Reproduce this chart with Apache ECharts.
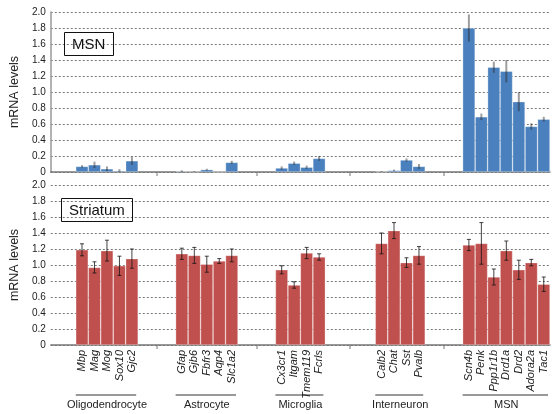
<!DOCTYPE html>
<html>
<head>
<meta charset="utf-8">
<script src="https://cdn.jsdelivr.net/npm/echarts@6/dist/echarts.min.js"></script>
<style>
  html, body { margin: 0; padding: 0; background: #fff; }
  #chart { width: 552px; height: 414px; }
</style>
</head>
<body>
<div id="chart"></div>
<script>
// cell types and their marker genes
const groups = ['Oligodendrocyte', 'Astrocyte', 'Microglia', 'Interneuron', 'MSN'];
const oligoGenes = ['Mbp', 'Mag', 'Mog', 'Sox10', 'Gjc2'];
const astroGenes = ['Gfap', 'Gjb6', 'Fbfr3', 'Aqp4', 'Slc1a2'];
const microGenes = ['Cx3cr1', 'Itgam', 'Tmem119', 'Fcrls'];
const interGenes = ['Calb2', 'Chat', 'Sst', 'Pvalb'];
const msnGenes = ['Scn4b', 'Penk', 'Ppp1r1b', 'Drd1a', 'Drd2', 'Adora2a', 'Tac1'];
const geneGroups = [oligoGenes, astroGenes, microGenes, interGenes, msnGenes];

// MSN (sorted) mRNA levels, same order as genes above
const msnMean = [0.07, 0.09, 0.04, 0.015, 0.14,
                 0.01, 0.005, 0.03, 0.002, 0.12,
                 0.05, 0.11, 0.06, 0.17,
                 0.005, 0.02, 0.15, 0.07,
                 1.80, 0.69, 1.31, 1.26, 0.88, 0.57, 0.66];
const msnErr = [0.015, 0.04, 0.03, 0.02, 0.05,
                0.01, 0.005, 0.01, 0.0, 0.02,
                0.02, 0.02, 0.02, 0.03,
                0.005, 0.01, 0.02, 0.03,
                0.17, 0.04, 0.07, 0.14, 0.12, 0.04, 0.03];

// Striatum mRNA levels
const strMean = [1.19, 0.97, 1.18, 0.99, 1.08,
                 1.14, 1.12, 1.01, 1.05, 1.12,
                 0.94, 0.75, 1.15, 1.10,
                 1.27, 1.43, 1.03, 1.12,
                 1.25, 1.27, 0.85, 1.18, 0.94, 1.03, 0.76];
const strErr = [0.075, 0.07, 0.13, 0.12, 0.12,
                0.07, 0.10, 0.10, 0.03, 0.08,
                0.05, 0.04, 0.07, 0.04,
                0.13, 0.10, 0.06, 0.11,
                0.07, 0.26, 0.10, 0.12, 0.12, 0.04, 0.09];

// empty slots before the first group and between groups
const leadGap = 2;
const groupGaps = [3, 3, 4, 3];

// build category slots
const categories = [];
const slotOf = []; // gene index -> slot index
const groupSpan = []; // [firstSlot, lastSlot]
for (let i = 0; i < leadGap; i++) categories.push('');
geneGroups.forEach((genes, g) => {
  const first = categories.length;
  genes.forEach(name => {
    slotOf.push(categories.length);
    categories.push(name);
  });
  groupSpan.push([first, categories.length - 1]);
  if (g < groupGaps.length) {
    for (let i = 0; i < groupGaps[g]; i++) categories.push('');
  }
});

function barData(vals) {
  const arr = categories.map(() => null);
  vals.forEach((v, i) => { arr[slotOf[i]] = v; });
  return arr;
}
function errData(vals, errs) {
  return vals.map((v, i) => [slotOf[i], v, errs[i]]);
}

function errorSeries(idx, data, color, width, cap) {
  return {
    type: 'custom',
    xAxisIndex: idx,
    yAxisIndex: idx,
    z: 10,
    silent: true,
    data: data,
    renderItem: (params, api) => {
      const x = api.value(0);
      const v = api.value(1);
      const e = api.value(2);
      const hi = api.coord([x, v + e]);
      const lo = api.coord([x, Math.max(0, v - e)]);
      const style = { stroke: color, lineWidth: width };
      const children = [
        { type: 'line', shape: { x1: hi[0], y1: hi[1], x2: lo[0], y2: lo[1] }, style },
      ];
      if (cap) {
        children.push(
          { type: 'line', shape: { x1: hi[0] - cap, y1: hi[1], x2: hi[0] + cap, y2: hi[1] }, style },
          { type: 'line', shape: { x1: lo[0] - cap, y1: lo[1], x2: lo[0] + cap, y2: lo[1] }, style }
        );
      }
      return { type: 'group', children };
    },
  };
}

const font = 'Liberation Sans, Arial, sans-serif';

const yAxisBase = {
  type: 'value',
  min: 0,
  max: 2,
  interval: 0.2,
  name: 'mRNA levels',
  nameLocation: 'middle',
  nameGap: 26,
  nameTextStyle: { fontSize: 12.5, color: '#222', fontFamily: font },
  axisLabel: {
    fontSize: 10,
    color: '#222',
    fontFamily: font,
    margin: 5,
    formatter: v => (v === 0 ? '0' : v.toFixed(1)),
  },
  axisTick: { show: false },
  splitLine: { lineStyle: { color: '#777', type: [2, 2], width: 1 } },
};

const chart = echarts.init(document.getElementById('chart'));
chart.setOption({
  animation: false,
  title: [
    {
      text: 'MSN', left: 64, top: 32, padding: [5, 8, 4, 8],
      borderColor: '#111', borderWidth: 1,
      textStyle: { fontSize: 15, fontWeight: 'normal', color: '#111', fontFamily: font },
    },
    {
      text: 'Striatum', left: 61, top: 198, padding: [5, 8, 4, 8],
      borderColor: '#111', borderWidth: 1,
      textStyle: { fontSize: 15, fontWeight: 'normal', color: '#111', fontFamily: font },
    },
  ],
  grid: [
    { left: 45, right: 2, top: 12, height: 160 },
    { left: 45, right: 2, top: 185, height: 160 },
  ],
  xAxis: [
    {
      type: 'category', gridIndex: 0, data: categories,
      axisLine: { lineStyle: { color: '#777', width: 1.5 } },
      axisTick: { show: false },
      axisLabel: { show: false },
    },
    {
      type: 'category', gridIndex: 1, data: categories,
      axisLine: { lineStyle: { color: '#777', width: 1.5 } },
      axisTick: { show: false },
      axisLabel: {
        interval: 0, rotate: 90, margin: 5,
        fontSize: 11, fontStyle: 'italic', color: '#222', fontFamily: font,
      },
    },
  ],
  yAxis: [
    Object.assign({}, yAxisBase, { gridIndex: 0, axisLine: { show: true, lineStyle: { color: '#999', width: 1.5 } } }),
    Object.assign({}, yAxisBase, { gridIndex: 1, axisLine: { show: false } }),
  ],
  series: [
    {
      type: 'bar', xAxisIndex: 0, yAxisIndex: 0,
      data: barData(msnMean),
      barWidth: '100%',
      itemStyle: { color: '#4a80bd', borderColor: 'rgba(255,255,255,0.5)', borderWidth: 0.6 },
    },
    {
      type: 'bar', xAxisIndex: 1, yAxisIndex: 1,
      data: barData(strMean),
      barWidth: '100%',
      itemStyle: { color: '#c0504d', borderColor: 'rgba(255,255,255,0.5)', borderWidth: 0.6 },
    },
    errorSeries(0, errData(msnMean, msnErr), 'rgba(40,40,40,0.45)', 2, 0),
    errorSeries(1, errData(strMean, strErr), 'rgba(20,20,20,0.8)', 1, 2),
  ],
});

// group labels, underlines and separator ticks from the axis scale
const graphics = [];
const halfSlot = (chart.convertToPixel({ xAxisIndex: 1 }, 1) - chart.convertToPixel({ xAxisIndex: 1 }, 0)) / 2;
const y0Top = chart.convertToPixel({ yAxisIndex: 0 }, 0);
const y0Bot = chart.convertToPixel({ yAxisIndex: 1 }, 0);
groupSpan.forEach(([a, b], g) => {
  const xa = chart.convertToPixel({ xAxisIndex: 1 }, a) - halfSlot;
  const xb = chart.convertToPixel({ xAxisIndex: 1 }, b) + halfSlot;
  graphics.push({
    type: 'line', shape: { x1: xa, y1: 395, x2: xb - 2, y2: 395 },
    style: { stroke: '#777', lineWidth: 1.5 },
  });
  graphics.push({
    type: 'text', x: (xa + xb) / 2, y: 405,
    style: { text: groups[g], fill: '#222', font: '11px ' + font, align: 'center', verticalAlign: 'middle' },
  });
  if (g < groupSpan.length - 1) {
    const next = chart.convertToPixel({ xAxisIndex: 1 }, groupSpan[g + 1][0]) - halfSlot;
    const xm = Math.round((xb + next) / 2);
    [y0Top, y0Bot].forEach(y => {
      graphics.push({
        type: 'line', shape: { x1: xm, y1: y, x2: xm, y2: y + 4 },
        style: { stroke: '#777', lineWidth: 1 },
      });
    });
  }
});
chart.setOption({ graphic: graphics });
</script>
</body>
</html>
